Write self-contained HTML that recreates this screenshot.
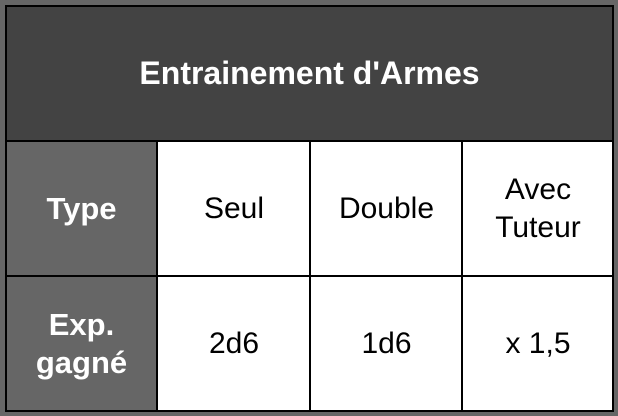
<!DOCTYPE html>
<html><head><meta charset="utf-8"><style>
html,body{margin:0;padding:0;width:618px;height:416px;background:#666;overflow:hidden}
body{position:relative;font-family:"Liberation Sans",sans-serif}
.c{position:absolute;display:flex;align-items:center;justify-content:center;text-align:center;box-sizing:border-box}
.title{left:5px;top:5px;width:609px;height:137px;background:#434343;color:#fff;font-weight:bold;font-size:32px}
.hd{background:#666;color:#fff;font-weight:bold;font-size:31px;line-height:38px}
.cell{background:#fff;color:#000;font-size:30px;line-height:38px}
.ln{position:absolute;background:#000}
</style></head><body>
<div class="c title">Entrainement d'Armes</div>
<div class="c hd" style="left:5px;top:141px;width:153px;height:136px">Type</div>
<div class="c cell" style="left:157px;top:141px;width:154px;height:136px">Seul</div>
<div class="c cell" style="left:310px;top:141px;width:153px;height:136px">Double</div>
<div class="c cell" style="left:462px;top:141px;width:152px;height:136px">Avec<br>Tuteur</div>
<div class="c hd" style="left:5px;top:276px;width:153px;height:136px">Exp.<br>gagné</div>
<div class="c cell" style="left:157px;top:276px;width:154px;height:136px">2d6</div>
<div class="c cell" style="left:310px;top:276px;width:153px;height:136px">1d6</div>
<div class="c cell" style="left:462px;top:276px;width:152px;height:136px">x 1,5</div>
<div class="ln" style="left:5px;top:5px;width:609px;height:2px"></div>
<div class="ln" style="left:5px;top:410px;width:609px;height:2px"></div>
<div class="ln" style="left:5px;top:5px;width:2px;height:407px"></div>
<div class="ln" style="left:612px;top:5px;width:2px;height:407px"></div>
<div class="ln" style="left:5px;top:140px;width:609px;height:2px"></div>
<div class="ln" style="left:5px;top:275px;width:609px;height:2px"></div>
<div class="ln" style="left:156px;top:140px;width:2px;height:272px"></div>
<div class="ln" style="left:309px;top:140px;width:2px;height:272px"></div>
<div class="ln" style="left:461px;top:140px;width:2px;height:272px"></div>
</body></html>
